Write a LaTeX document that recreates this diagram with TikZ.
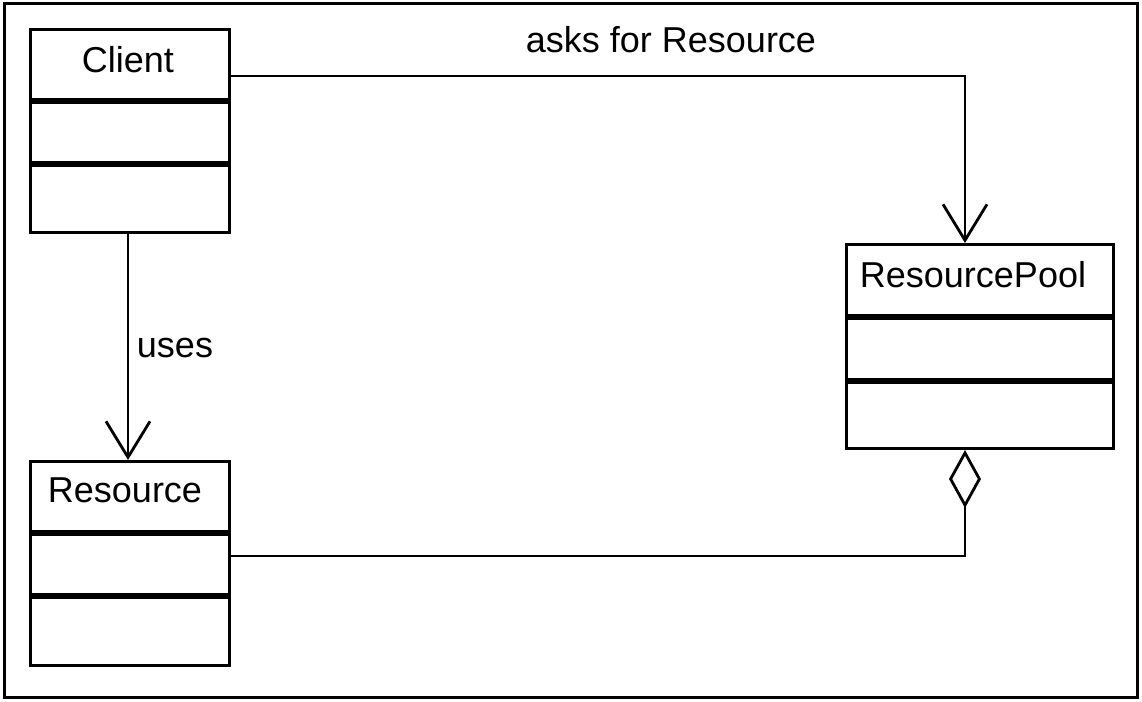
\documentclass[tikz,border=0pt]{standalone}
\usepackage{fontspec}
\setmainfont{Liberation Sans}
\usetikzlibrary{arrows.meta,calc}
\begin{document}
\begin{tikzpicture}[x=1pt,y=-1pt,
  classbox/.style={draw,line width=3pt,minimum width=199pt,minimum height=203pt,
    inner sep=0pt,anchor=north west},
  title/.style={font=\fontsize{36}{40}\selectfont,inner sep=0pt},
  sep/.style={line width=5.5pt},
  conn/.style={line width=2.8pt},
  open arrow/.style={-{Straight Barb[length=36pt,width=44pt]}},
  lbl/.style={font=\fontsize{36}{40}\selectfont,inner sep=0pt}
]
\useasboundingbox (0,0) rectangle (1142,701);
% outer frame
\draw[line width=3pt] (4,4) rectangle (1137,697);

% Client class
\node[classbox] (client) at (29,28) {};
\node[title] (clientname) at (128,60) {Client};
\draw[sep] ($(client.north west)+(0,73)$) -- ($(client.north east)+(0,73)$);
\draw[sep] ($(client.north west)+(0,136)$) -- ($(client.north east)+(0,136)$);

% ResourcePool class
\node[classbox,minimum width=267pt,minimum height=204pt] (pool) at (845,243) {};
\node[title] (poolname) at (973,275) {ResourcePool};
\draw[sep] ($(pool.north west)+(0,74)$) -- ($(pool.north east)+(0,74)$);
\draw[sep] ($(pool.north west)+(0,138)$) -- ($(pool.north east)+(0,138)$);

% Resource class
\node[classbox,minimum height=204pt] (resource) at (29,460) {};
\node[title] (resourcename) at (125,490) {Resource};
\draw[sep] ($(resource.north west)+(0,73)$) -- ($(resource.north east)+(0,73)$);
\draw[sep] ($(resource.north west)+(0,136)$) -- ($(resource.north east)+(0,136)$);

% Client asks the pool for a resource
\draw[conn,open arrow] ($(client.north east)+(0,48)$) -| ($(pool.north west)+(120,0)$);
\node[lbl] (asks) at (671,40) {asks for Resource};

% Client uses a resource
\draw[conn,open arrow] ($(client.south)+(-2,0)$) -- ($(resource.north)+(-2,0)$);
\node[lbl] (uses) at (175,348) {uses};

% Pool aggregates resources
\draw[conn,{Diamond[open,length=58pt,width=32pt]}-]
  ($(pool.south west)+(120,0)$) |- ($(resource.north east)+(0,96)$);
\end{tikzpicture}
\end{document}
